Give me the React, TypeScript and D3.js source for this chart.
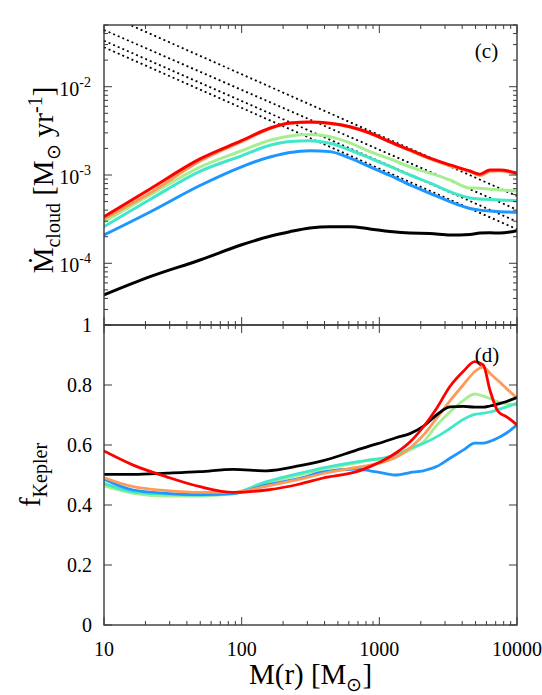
import React from "react";
import * as d3 from "d3";

// ---------- data ----------
const massTop = [10, 21.6, 49.8, 98.8, 163, 224, 313, 438, 612, 855, 1195, 1668, 2330, 3257, 4550, 5380, 6360, 7516, 10000];
const mdotRed = [3.37e-4, 6.95e-4, 1.52e-3, 2.43e-3, 3.43e-3, 3.88e-3, 3.98e-3, 3.85e-3, 3.52e-3, 2.99e-3, 2.38e-3, 1.92e-3, 1.55e-3, 1.3e-3, 1.11e-3, 1.02e-3, 1.14e-3, 1.14e-3, 1.05e-3];
const mdotOrange = [3.18e-4, 6.25e-4, 1.44e-3, 2.37e-3, 3.38e-3, 3.85e-3, 3.95e-3, 3.82e-3, 3.49e-3, 2.96e-3, 2.35e-3, 1.89e-3, 1.52e-3, 1.27e-3, 1.09e-3, 9.9e-4, 1.1e-3, 1.12e-3, 1.02e-3];
const mdotGreen = [2.94e-4, 5.94e-4, 1.23e-3, 1.87e-3, 2.49e-3, 2.77e-3, 2.88e-3, 2.72e-3, 2.31e-3, 1.84e-3, 1.52e-3, 1.24e-3, 1.05e-3, 8.79e-4, 7.13e-4, 7.1e-4, 6.9e-4, 6.76e-4, 6.59e-4];
const mdotTurq = [2.6e-4, 5.28e-4, 1.1e-3, 1.64e-3, 2.19e-3, 2.4e-3, 2.45e-3, 2.29e-3, 1.92e-3, 1.55e-3, 1.25e-3, 1.0e-3, 8.13e-4, 6.47e-4, 5.5e-4, 5.35e-4, 5.28e-4, 5.21e-4, 5.12e-4];
const mdotBlue = [2.09e-4, 3.81e-4, 7.6e-4, 1.23e-3, 1.61e-3, 1.8e-3, 1.88e-3, 1.84e-3, 1.55e-3, 1.24e-3, 9.88e-4, 7.71e-4, 6.21e-4, 4.99e-4, 4.18e-4, 4.0e-4, 3.9e-4, 3.84e-4, 3.78e-4];
const mdotBlack = [4.38e-5, 7.05e-5, 1.09e-4, 1.61e-4, 2.04e-4, 2.28e-4, 2.51e-4, 2.6e-4, 2.6e-4, 2.45e-4, 2.29e-4, 2.2e-4, 2.18e-4, 2.09e-4, 2.12e-4, 2.2e-4, 2.22e-4, 2.2e-4, 2.34e-4];

const dottedMass = [10, 10000];
const dottedA = [0.0677, 5.78e-4];
const dottedB = [0.0439, 4.05e-4];
const dottedC = [0.0332, 2.96e-4];
const dottedD = [0.028, 2.43e-4];

const massBottom = [10, 16.3, 28.5, 49.8, 86.9, 152, 265, 391, 684, 855, 1067, 1335, 1669, 2084, 2604, 3257, 4065, 4940, 5684, 6358, 7306, 8400, 10000];
const fBlack = [0.502, 0.502, 0.506, 0.511, 0.519, 0.514, 0.531, 0.548, 0.583, 0.597, 0.61, 0.625, 0.638, 0.662, 0.7, 0.727, 0.729, 0.726, 0.726, 0.73, 0.737, 0.745, 0.758];
const fRed = [0.58, 0.533, 0.494, 0.461, 0.442, 0.45, 0.47, 0.49, 0.511, 0.528, 0.548, 0.575, 0.61, 0.66, 0.722, 0.795, 0.845, 0.878, 0.867, 0.783, 0.711, 0.694, 0.667];
const fOrange = [0.491, 0.461, 0.448, 0.442, 0.442, 0.463, 0.486, 0.505, 0.525, 0.533, 0.543, 0.56, 0.59, 0.632, 0.689, 0.747, 0.8, 0.845, 0.86, 0.839, 0.814, 0.788, 0.756];
const fGreen = [0.464, 0.439, 0.43, 0.43, 0.437, 0.474, 0.5, 0.52, 0.54, 0.55, 0.553, 0.562, 0.583, 0.61, 0.665, 0.71, 0.748, 0.77, 0.763, 0.755, 0.743, 0.738, 0.733];
const fTurq = [0.472, 0.444, 0.436, 0.433, 0.44, 0.478, 0.506, 0.524, 0.544, 0.55, 0.556, 0.568, 0.589, 0.605, 0.627, 0.655, 0.685, 0.702, 0.706, 0.71, 0.718, 0.727, 0.739];
const fBlue = [0.486, 0.45, 0.439, 0.435, 0.438, 0.467, 0.489, 0.51, 0.52, 0.514, 0.506, 0.5, 0.508, 0.514, 0.528, 0.556, 0.583, 0.606, 0.606, 0.612, 0.624, 0.64, 0.667];

const xTickValues = [10, 100, 1000, 10000];
const xTickLabels = ["10", "100", "1000", "10000"];
const yTopTickValues = [1e-2, 1e-3, 1e-4];
const yTopTickExps = ["-2", "-3", "-4"];
const yBotTickValues = [0, 0.2, 0.4, 0.6, 0.8, 1];
const yBotTickLabels = ["0", "0.2", "0.4", "0.6", "0.8", "1"];

const COLORS = {
  black: "#000000",
  blue: "#1e96ff",
  turq: "#42e6c8",
  green: "#a6ee92",
  orange: "#ff9a5a",
  red: "#ff0000",
};

// ---------- layout ----------
const W = 542;
const H = 695;
const L = 104;
const R = 517;
const T1 = 25;
const B1 = 325;
const T2 = 325;
const B2 = 625;
const FONT = "'Liberation Serif', 'Times New Roman', serif";

export default function App() {
  const x = d3.scaleLog().domain([10, 10000]).range([L, R]);
  const yTop = d3.scaleLog().domain([2e-5, 5e-2]).range([B1, T1]);
  const yBot = d3.scaleLinear().domain([0, 1]).range([B2, T2]);

  const lineTop = (ms: number[], vs: number[], curve: any) =>
    d3
      .line<number>()
      .x((_, i) => x(ms[i]))
      .y((v) => yTop(v))
      .curve(curve)(vs) || "";
  const lineBot = (ms: number[], vs: number[]) =>
    d3
      .line<number>()
      .x((_, i) => x(ms[i]))
      .y((v) => yBot(v))
      .curve(d3.curveMonotoneX)(vs) || "";

  const topSeries = [
    { v: mdotBlack, c: COLORS.black },
    { v: mdotBlue, c: COLORS.blue },
    { v: mdotTurq, c: COLORS.turq },
    { v: mdotGreen, c: COLORS.green },
    { v: mdotOrange, c: COLORS.orange },
    { v: mdotRed, c: COLORS.red },
  ];
  const botSeries = [
    { v: fGreen, c: COLORS.green },
    { v: fTurq, c: COLORS.turq },
    { v: fBlue, c: COLORS.blue },
    { v: fOrange, c: COLORS.orange },
    { v: fBlack, c: COLORS.black },
    { v: fRed, c: COLORS.red },
  ];
  const dotted = [dottedA, dottedB, dottedC, dottedD];

  const xMinor = x.ticks().filter((t) => !xTickValues.includes(t));
  const yTopMinor = yTop
    .ticks()
    .filter((t) => !yTopTickValues.some((m) => Math.abs(m - t) / m < 1e-6));

  const axisColor = "#3a3a3a";
  const MAJ = 8;
  const MIN = 4;

  const xTickMarks = (top: number, bottom: number, key: string) => (
    <g key={key} stroke={axisColor} strokeWidth={1}>
      {xTickValues.map((t) => (
        <g key={"M" + t}>
          <line x1={x(t)} x2={x(t)} y1={bottom} y2={bottom - MAJ} />
          <line x1={x(t)} x2={x(t)} y1={top} y2={top + MAJ} />
        </g>
      ))}
      {xMinor.map((t) => (
        <g key={"m" + t}>
          <line x1={x(t)} x2={x(t)} y1={bottom} y2={bottom - MIN} />
          <line x1={x(t)} x2={x(t)} y1={top} y2={top + MIN} />
        </g>
      ))}
    </g>
  );

  return (
    <svg
      width={W}
      height={H}
      style={{ position: "absolute", left: 0, top: 0, display: "block", background: "#fff" }}
      fontFamily={FONT}
    >
      <defs>
        <clipPath id="clipTop">
          <rect x={L} y={T1} width={R - L} height={B1 - T1} />
        </clipPath>
        <clipPath id="clipBot">
          <rect x={L} y={T2} width={R - L} height={B2 - T2} />
        </clipPath>
      </defs>
      <rect x={0} y={0} width={W} height={H} fill="#fff" />

      {/* ---------- top panel ---------- */}
      <g clipPath="url(#clipTop)">
        {dotted.map((d, i) => (
          <path
            key={"d" + i}
            d={lineTop(dottedMass, d, d3.curveLinear)}
            fill="none"
            stroke="#000"
            strokeWidth={1.8}
            strokeDasharray="2,3"
          />
        ))}
        {topSeries.map((s, i) => (
          <path
            key={"t" + i}
            d={lineTop(massTop, s.v, d3.curveMonotoneX)}
            fill="none"
            stroke={s.c}
            strokeWidth={3}
            strokeLinejoin="round"
            strokeLinecap="round"
          />
        ))}
      </g>
      {xTickMarks(T1, B1, "xt1")}
      <g stroke={axisColor} strokeWidth={1}>
        {yTopTickValues.map((t) => (
          <g key={"yM" + t}>
            <line x1={L} x2={L + MAJ} y1={yTop(t)} y2={yTop(t)} />
            <line x1={R} x2={R - MAJ} y1={yTop(t)} y2={yTop(t)} />
          </g>
        ))}
        {yTopMinor.map((t) => (
          <g key={"ym" + t}>
            <line x1={L} x2={L + MIN} y1={yTop(t)} y2={yTop(t)} />
            <line x1={R} x2={R - MIN} y1={yTop(t)} y2={yTop(t)} />
          </g>
        ))}
      </g>
      <rect x={L} y={T1} width={R - L} height={B1 - T1} fill="none" stroke={axisColor} strokeWidth={1.4} />
      {yTopTickValues.map((t, i) => (
        <text key={"ytl" + t} x={91} y={yTop(t) + 9} textAnchor="end" fontSize={20} fill="#000">
          <tspan>10</tspan>
          <tspan fontSize={14} dy={-9}>
            {yTopTickExps[i]}
          </tspan>
        </text>
      ))}
      <text x={486.5} y={58} textAnchor="middle" fontSize={21} fill="#000">
        (c)
      </text>

      {/* ---------- bottom panel ---------- */}
      <g clipPath="url(#clipBot)">
        {botSeries.map((s, i) => (
          <path
            key={"b" + i}
            d={lineBot(massBottom, s.v)}
            fill="none"
            stroke={s.c}
            strokeWidth={2.8}
            strokeLinejoin="round"
            strokeLinecap="round"
          />
        ))}
      </g>
      {xTickMarks(T2, B2, "xt2")}
      <g stroke={axisColor} strokeWidth={1}>
        {yBotTickValues.map((t) => (
          <g key={"yb" + t}>
            <line x1={L} x2={L + MAJ} y1={yBot(t)} y2={yBot(t)} />
            <line x1={R} x2={R - MAJ} y1={yBot(t)} y2={yBot(t)} />
          </g>
        ))}
      </g>
      <rect x={L} y={T2} width={R - L} height={B2 - T2} fill="none" stroke={axisColor} strokeWidth={1.4} />
      {yBotTickValues.map((t, i) => (
        <text key={"ybl" + t} x={92} y={yBot(t) + 7} textAnchor="end" fontSize={20} fill="#000">
          {yBotTickLabels[i]}
        </text>
      ))}
      {xTickValues.map((t, i) => (
        <text key={"xl" + t} x={x(t)} y={656} textAnchor="middle" fontSize={20} fill="#000">
          {xTickLabels[i]}
        </text>
      ))}
      <text x={487} y={362} textAnchor="middle" fontSize={21} fill="#000">
        (d)
      </text>

      {/* ---------- axis titles ---------- */}
      <text x={310.5} y={684} textAnchor="middle" fontSize={29} fill="#000">
        <tspan>M(r) [M</tspan>
        <tspan fontSize={19} dy={7}>⊙</tspan>
        <tspan dy={-7}>]</tspan>
      </text>
      <text transform="translate(40,475) rotate(-90)" textAnchor="middle" fontSize={29} fill="#000">
        <tspan>f</tspan>
        <tspan fontSize={20} dy={7}>Kepler</tspan>
      </text>
      <text transform="translate(53,180) rotate(-90)" textAnchor="middle" fontSize={29} fill="#000">
        <tspan>Ṁ</tspan>
        <tspan fontSize={20} dy={7}>cloud</tspan>
        <tspan dy={-7}> [M</tspan>
        <tspan fontSize={19} dy={7}>⊙</tspan>
        <tspan dy={-7}> yr</tspan>
        <tspan fontSize={20} dy={-11}>-1</tspan>
        <tspan dy={11}>]</tspan>
      </text>
    </svg>
  );
}
